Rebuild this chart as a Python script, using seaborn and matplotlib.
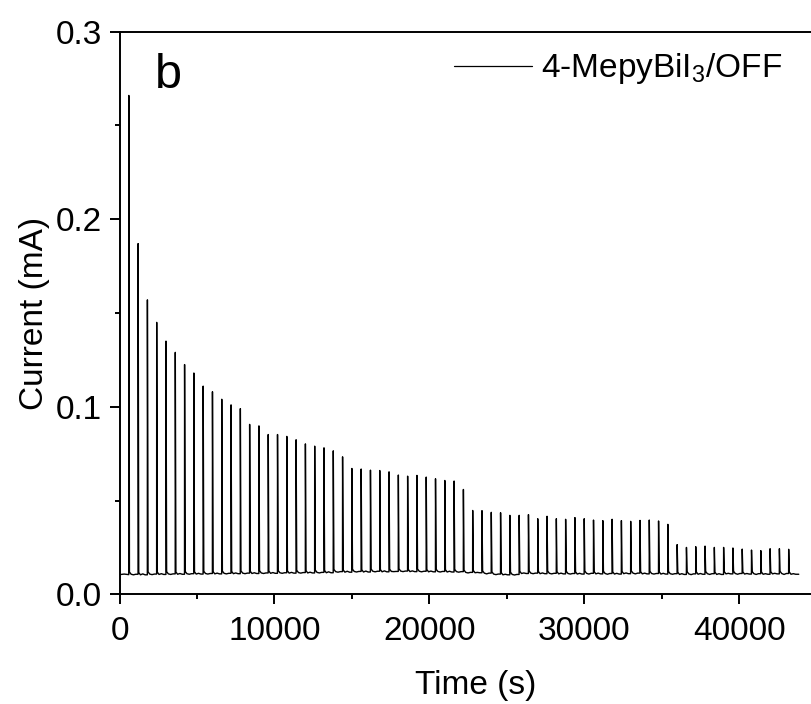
import numpy as np
import pandas as pd
import seaborn as sns
import matplotlib
matplotlib.use("Agg")
import matplotlib.pyplot as plt
from matplotlib.ticker import MultipleLocator, FormatStrFormatter

# light-on times (s) of each pulse
spike_times = [
    600, 1200, 1800, 2400, 3000, 3600, 4200, 4800, 5400, 6000,
    6600, 7200, 7800, 8400, 9000, 9600, 10200, 10800, 11400, 12000,
    12600, 13200, 13800, 14400, 15000, 15600, 16200, 16800, 17400, 18000,
    18600, 19200, 19800, 20400, 21000, 21600, 22200, 22800, 23400, 24000,
    24600, 25200, 25800, 26400, 27000, 27600, 28200, 28800, 29400, 30000,
    30600, 31200, 31800, 32400, 33000, 33600, 34200, 34800, 35400, 36000,
    36600, 37200, 37800, 38400, 39000, 39600, 40200, 40800, 41400, 42000,
    42600, 43200,
]
# peak current (mA) of each pulse
spike_peaks = [
    0.266, 0.187, 0.157, 0.145, 0.135, 0.129, 0.1225, 0.118, 0.111, 0.108,
    0.104, 0.101, 0.099, 0.0906, 0.0898, 0.0852, 0.0852, 0.0842, 0.0824, 0.0802,
    0.079, 0.0781, 0.0765, 0.0733, 0.0671, 0.0668, 0.0662, 0.066, 0.0653, 0.0636,
    0.063, 0.0634, 0.0625, 0.0616, 0.0607, 0.0604, 0.0559, 0.0447, 0.0446, 0.0437,
    0.0435, 0.0421, 0.0421, 0.0425, 0.0403, 0.0416, 0.0403, 0.040, 0.0409, 0.0403,
    0.0396, 0.0393, 0.040, 0.0393, 0.0389, 0.0394, 0.0396, 0.0391, 0.0373, 0.0265,
    0.025, 0.0254, 0.0257, 0.025, 0.025, 0.0247, 0.0241, 0.0236, 0.0233, 0.0243,
    0.0243, 0.024,
]
# dark current (mA) in each interval: before first pulse, then after each pulse
dark_level = [
    0.0105, 0.0107, 0.0104, 0.0108, 0.0106, 0.0109, 0.0107, 0.0110, 0.0108, 0.0111,
    0.0109, 0.0112, 0.0110, 0.0113, 0.0111, 0.0114, 0.0112, 0.0115, 0.0113, 0.0116,
    0.0114, 0.0117, 0.0115, 0.0121, 0.0118, 0.0122, 0.0119, 0.0123, 0.0120, 0.0122,
    0.0124, 0.0121, 0.0123, 0.0120, 0.0122, 0.0119, 0.0121, 0.0117, 0.0115, 0.0113,
    0.0108, 0.0104, 0.0106, 0.0111, 0.0113, 0.0110, 0.0112, 0.0109, 0.0111, 0.0108,
    0.0112, 0.0109, 0.0111, 0.0108, 0.0110, 0.0113, 0.0109, 0.0111, 0.0108, 0.0110,
    0.0106, 0.0109, 0.0107, 0.0110, 0.0106, 0.0109, 0.0111, 0.0108, 0.0110, 0.0107,
    0.0109, 0.0111, 0.0107,
]
# mid-interval dark current (mA), small drift between pulses
dark_mid = [
    0.0108, 0.0104, 0.0109, 0.0105, 0.0110, 0.0106, 0.0111, 0.0107, 0.0112, 0.0108,
    0.0113, 0.0109, 0.0114, 0.0110, 0.0115, 0.0111, 0.0116, 0.0112, 0.0117, 0.0113,
    0.0118, 0.0114, 0.0120, 0.0118, 0.0123, 0.0119, 0.0124, 0.0120, 0.0125, 0.0121,
    0.0121, 0.0125, 0.0120, 0.0124, 0.0119, 0.0123, 0.0118, 0.0114, 0.0117, 0.0109,
    0.0105, 0.0107, 0.0103, 0.0114, 0.0110, 0.0114, 0.0109, 0.0113, 0.0108, 0.0112,
    0.0108, 0.0113, 0.0107, 0.0112, 0.0114, 0.0109, 0.0113, 0.0108, 0.0112, 0.0107,
    0.0110, 0.0105, 0.0111, 0.0106, 0.0110, 0.0112, 0.0107, 0.0111, 0.0106, 0.0110,
    0.0112, 0.0106, 0.0110,
]
t_start = 0
t_end = 43850
label = "4-MepyBiI$_3$/OFF"

# build the trace: dark level, sharp rise at each pulse, fast decay back
t, cur = [t_start, 300], [dark_level[0], dark_mid[0]]
for i, (ts, pk) in enumerate(zip(spike_times, spike_peaks)):
    t += [ts - 5, ts, ts + 40, ts + 150, ts + 300, ts + 450]
    cur += [dark_level[i], pk, dark_level[i + 1] + 0.0012, dark_level[i + 1],
            dark_mid[i + 1], dark_level[i + 1]]
t += [t_end]
cur += [dark_level[-1]]
df = pd.DataFrame({"Time (s)": t, "Current (mA)": cur, "sample": label})

sns.set_style("ticks")
plt.rcParams["font.family"] = ["Liberation Sans", "DejaVu Sans"]
plt.rcParams["mathtext.default"] = "regular"
plt.rcParams["text.color"] = "black"
plt.rcParams["axes.labelcolor"] = "black"

fig = plt.figure(figsize=(8.12, 7.04), dpi=100)
ax = fig.add_axes([0.1472, 0.1558, 0.8775, 0.7992])

sns.lineplot(data=df, x="Time (s)", y="Current (mA)", hue="sample",
             palette=["black"], sort=False, estimator=None, lw=1.0, ax=ax)

ax.set_xlim(0, 46000)
ax.set_ylim(0, 0.3)
ax.xaxis.set_major_locator(MultipleLocator(10000))
ax.xaxis.set_minor_locator(MultipleLocator(5000))
ax.yaxis.set_major_locator(MultipleLocator(0.1))
ax.yaxis.set_minor_locator(MultipleLocator(0.05))
ax.yaxis.set_major_formatter(FormatStrFormatter("%.1f"))

for s in ["left", "bottom", "top"]:
    ax.spines[s].set_linewidth(1.4)
    ax.spines[s].set_color("black")
ax.spines["right"].set_visible(False)
ax.tick_params(which="major", direction="out", length=7.5, width=1.4, labelsize=24,
               colors="black")
ax.tick_params(axis="x", which="major", pad=8)
ax.tick_params(axis="y", which="major", pad=5)
ax.tick_params(which="minor", direction="out", length=3.8, width=1.4, colors="black")

ax.set_xlabel("Time (s)", fontsize=24, labelpad=17)
ax.set_ylabel("Current (mA)", fontsize=24, labelpad=4)

leg = ax.legend(loc="center left", bbox_to_anchor=(0.559, 0.902), bbox_transform=fig.transFigure,
                frameon=False, fontsize=24, handlelength=2.35, handletextpad=0.25,
                borderpad=0, borderaxespad=0)
for h in leg.get_lines():
    h.set_linewidth(0.9)

fig.text(0.191, 0.875, "b", fontsize=35, va="baseline", color="black")

fig.savefig("out.png", dpi=100)
